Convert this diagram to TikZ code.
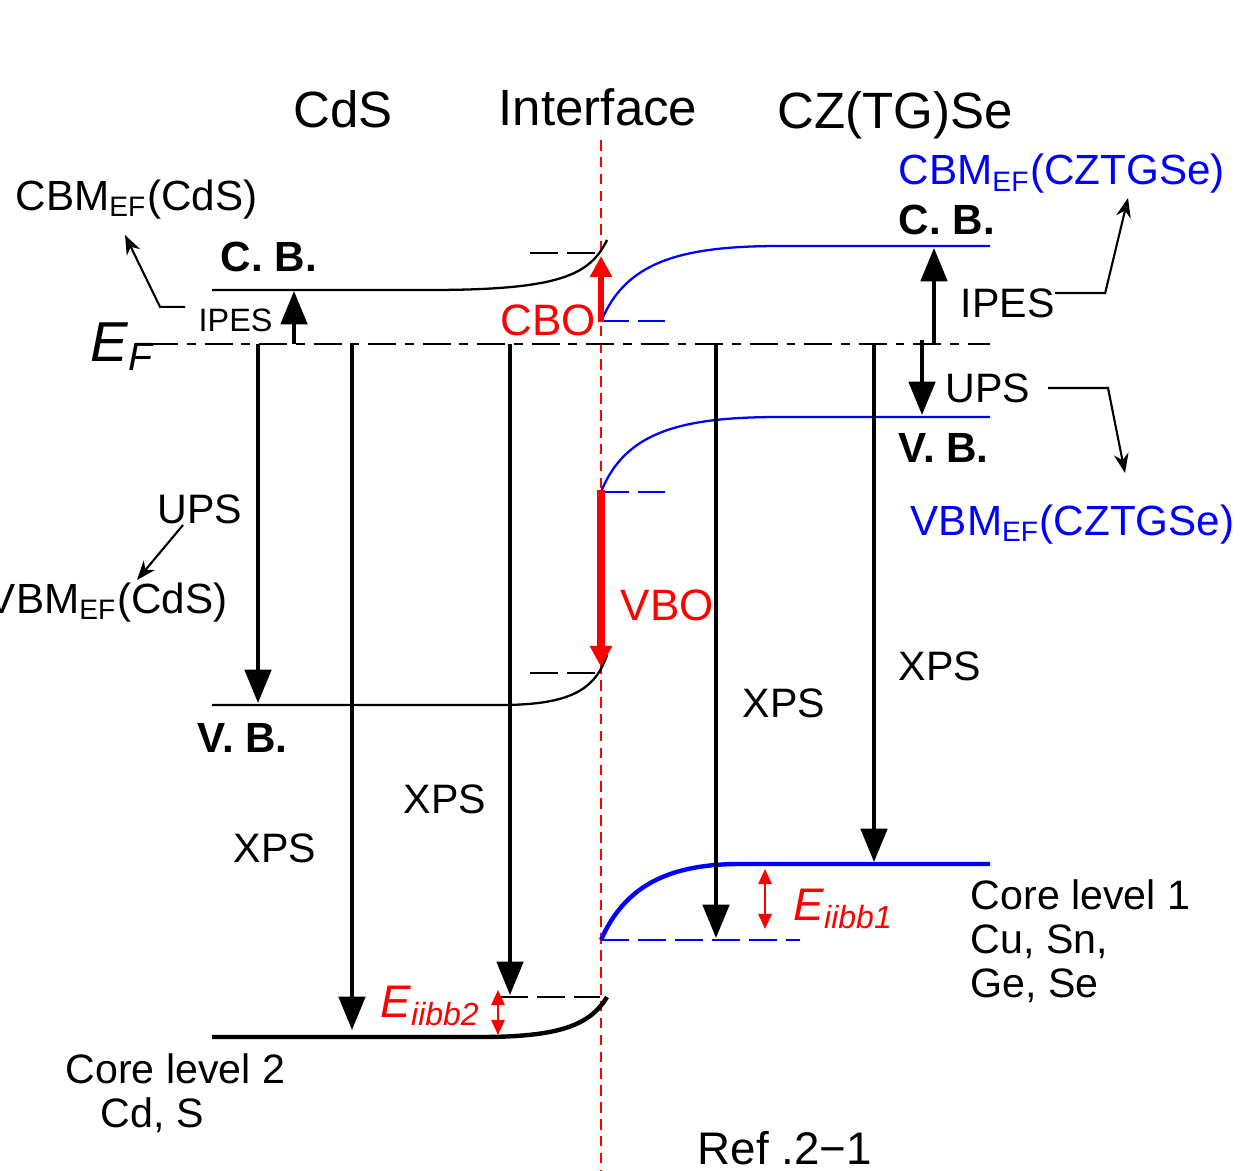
\documentclass[tikz,border=0pt]{standalone}
\usepackage{fontspec}
\setmainfont{Liberation Sans}
\usetikzlibrary{arrows.meta,positioning}
\definecolor{BandBlue}{RGB}{0,0,255}
\definecolor{OffsetRed}{RGB}{255,0,0}

\begin{document}
\begin{tikzpicture}[
    x=0.01cm, y=-0.01cm,
    txt/.style={inner sep=0pt, anchor=base west, font=\fontsize{11.7}{12.5}\selectfont},
    title/.style={inner sep=0pt, anchor=base, font=\fontsize{14.5}{16}\selectfont},
    bandname/.style={inner sep=0pt, anchor=base west, font=\fontsize{12}{14}\selectfont\bfseries},
    edge/.style={inner sep=0pt, anchor=base west, font=\fontsize{12}{14}\selectfont},
    energy/.style={inner sep=0pt, anchor=base west, font=\fontsize{13}{15}\selectfont\itshape},
    probe/.style={-{Triangle[length=9.5pt,width=7.5pt]}, line width=1.1pt},
    note/.style={-{Stealth[length=5.5pt,width=4.2pt]}, line width=0.6pt},
    band/.style={line width=0.65pt},
    core/.style={line width=1.25pt},
    guide/.style={line width=0.6pt, dash pattern=on 8pt off 2.5pt},
    fermi/.style={line width=0.6pt, dash pattern=on 8pt off 2.5pt on 2.5pt off 2.5pt},
    iface/.style={OffsetRed, line width=0.6pt, dash pattern=on 3pt off 1.8pt},
    offset/.style={OffsetRed, -{Triangle[length=6pt,width=6pt]}},
    bending/.style={OffsetRed, {Triangle[length=4.3pt,width=3.8pt]}-{Triangle[length=4.3pt,width=3.8pt]}, line width=0.6pt}
  ]
    \useasboundingbox (0,0) rectangle (1255,1170);

    % headings
    \node[title] (cds) at (343,128) {CdS};
    \node[title] (intf) at (598,126) {Interface};
    \node[title] (czt) at (895,129) {CZ(TG)Se};

    % interface and Fermi level
    \coordinate (ifTop) at (601,140);
    \coordinate (ifBot) at (601,1170);
    \draw[iface] (ifTop) -- (ifBot);
    \node[inner sep=0pt, anchor=base west, font=\fontsize{16}{17}\selectfont\itshape] (ef) at (90,361) {E\textsubscript{F}};
    \coordinate (efL) at (150,344);
    \coordinate (efR) at (990,344);
    \draw[fermi] (efL) -- (efR);

    % CdS side
    \draw[band] (212,290) -- (430,290) .. controls (560,290) and (590,275) .. (607,240);
    \draw[band] (212,705) -- (500,705) .. controls (570,705) and (595,690) .. (607,655);
    \draw[core] (212,1037) -- (480,1037) .. controls (560,1037) and (590,1025) .. (607,997);
    \draw[guide] (530,253) -- (598,253);
    \draw[guide] (530,673) -- (597,673);
    \draw[guide] (500,997) -- (600,997);

    % CZ(TG)Se side
    \draw[band, BandBlue] (601,322) .. controls (625,262) and (680,246) .. (780,246) -- (990,246);
    \draw[band, BandBlue] (601,492) .. controls (625,432) and (680,417) .. (780,417) -- (990,417);
    \draw[core, BandBlue] (601,940) .. controls (625,885) and (670,864) .. (740,864) -- (990,864);
    \draw[guide, BandBlue] (601,321) -- (665,321);
    \draw[guide, BandBlue] (601,492) -- (665,492);
    \draw[guide, BandBlue] (601,940) -- (800,940);

    % band labels
    \node[bandname] (cbL) at (220,271) {C. B.};
    \node[bandname] (vbL) at (197,752) {V. B.};
    \node[bandname] (cbR) at (898,234) {C. B.};
    \node[bandname] (vbR) at (898,462) {V. B.};
    \node[edge] (cbmL) at (15,210) {CBM\textsubscript{EF}(CdS)};
    \node[edge, anchor=base east] (vbmL) at (228,613) {VBM\textsubscript{EF}(CdS)};
    \node[edge, BandBlue] (cbmR) at (898,185) {CBM\textsubscript{EF}(CZTGSe)};
    \node[edge, BandBlue] (vbmR) at (910,535) {VBM\textsubscript{EF}(CZTGSe)};

    % probe labels
    \node[txt, font=\fontsize{9.2}{11}\selectfont] (ipesL) at (198,331) {IPES};
    \node[txt] (upsL) at (157,523) {UPS};
    \node[txt] (ipesR) at (960,317) {IPES};
    \node[txt] (upsR) at (945,402) {UPS};
    \node[txt] (xpsA) at (233,862) {XPS};
    \node[txt] (xpsB) at (403,813) {XPS};
    \node[txt] (xpsC) at (742,717) {XPS};
    \node[txt] (xpsD) at (898,680) {XPS};

    % probe arrows from E_F
    \coordinate (upsLs) at (258,344);  \coordinate (upsLe) at (258,703);
    \coordinate (ipesLs) at (294,344); \coordinate (ipesLe) at (294,291);
    \coordinate (xpsAs) at (352,344);  \coordinate (xpsAe) at (352,1030);
    \coordinate (xpsBs) at (510,344);  \coordinate (xpsBe) at (510,995);
    \coordinate (xpsCs) at (716,344);  \coordinate (xpsCe) at (716,938);
    \coordinate (xpsDs) at (874,344);  \coordinate (xpsDe) at (874,862);
    \coordinate (ipesRs) at (934,344); \coordinate (ipesRe) at (934,248);
    \coordinate (upsRs) at (922,340);  \coordinate (upsRe) at (922,415);
    \draw[probe] (upsLs) -- (upsLe);
    \draw[probe] (ipesLs) -- (ipesLe);
    \draw[probe] (xpsAs) -- (xpsAe);
    \draw[probe] (xpsBs) -- (xpsBe);
    \draw[probe] (xpsCs) -- (xpsCe);
    \draw[probe] (xpsDs) -- (xpsDe);
    \draw[probe] (ipesRs) -- (ipesRe);
    \draw[probe] (upsRs) -- (upsRe);

    % pointers to the edge labels
    \coordinate (cbmLtip) at (125,235);
    \coordinate (vbmLtip) at (137,580);
    \coordinate (cbmRtip) at (1128,198);
    \coordinate (vbmRtip) at (1125,473);
    \draw[note] ([shift={(-13,-13)}]ipesL.west) -- ++(-25,0) -- (cbmLtip);
    \draw[note] ([shift={(26,2)}]upsL.base west) -- (vbmLtip);
    \draw[note] ([shift={(0,-24)}]ipesR.base east) -- ++(50,0) -- (cbmRtip);
    \draw[note] ([shift={(17,-14)}]upsR.base east) -- ++(60,0) -- (vbmRtip);

    % band offsets
    \coordinate (cboS) at (601,322); \coordinate (cboE) at (601,256);
    \coordinate (vboS) at (601,490); \coordinate (vboE) at (601,667);
    \draw[offset, line width=1.7pt] (cboS) -- (cboE);
    \draw[offset, line width=2.3pt] (vboS) -- (vboE);
    \node[edge, OffsetRed, font=\fontsize{12.5}{14}\selectfont] (cbo) at (500,335) {CBO};
    \node[edge, OffsetRed, font=\fontsize{12.5}{14}\selectfont] (vbo) at (620,620) {VBO};

    % interface induced band bending
    \coordinate (bb1t) at (765,869); \coordinate (bb1b) at (765,929);
    \coordinate (bb2t) at (498,990); \coordinate (bb2b) at (498,1035);
    \draw[bending] (bb1t) -- (bb1b);
    \draw[bending] (bb2t) -- (bb2b);
    \node[energy, OffsetRed] (eb1) at (793,920) {E\textsubscript{iibb1}};
    \node[energy, OffsetRed] (eb2) at (380,1017) {E\textsubscript{iibb2}};

    % core levels
    \node[txt, anchor=north west, align=left] (core1) at (970,879) {Core level 1\\Cu, Sn,\\Ge, Se};
    \node[txt] (core2) at (65,1083) {Core level 2};
    \node[txt] (core2el) at (100,1127) {Cd, S};

    \node[edge, font=\fontsize{13}{15}\selectfont] (ref) at (697,1164) {Ref .2−1};
\end{tikzpicture}
\end{document}
